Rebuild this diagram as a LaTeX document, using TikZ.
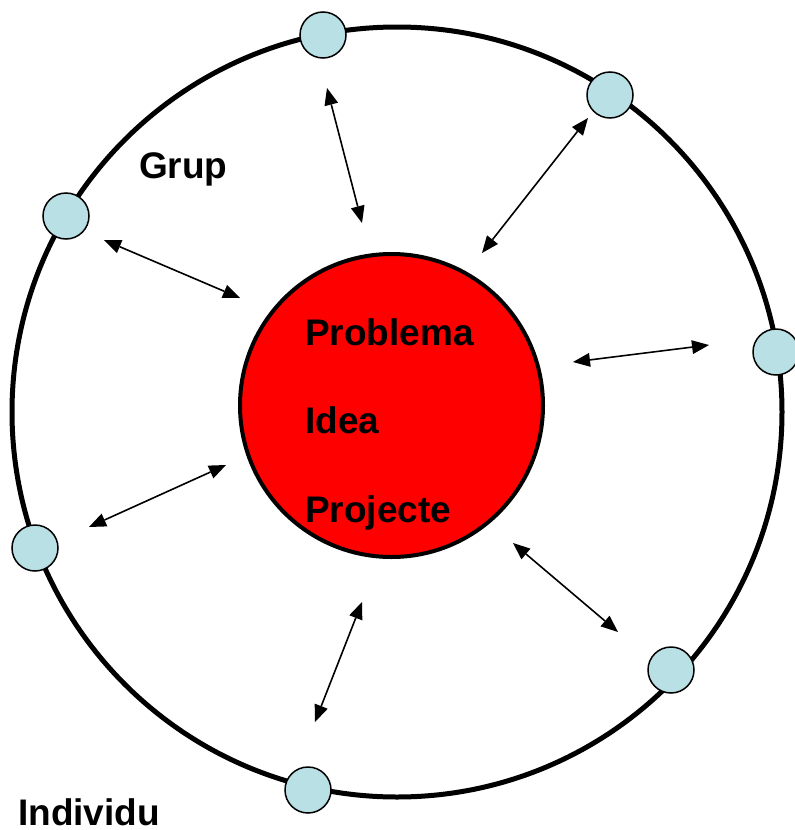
\documentclass[tikz,border=0pt]{standalone}
\usepackage{fontspec}
\setmainfont{Liberation Sans}
\usetikzlibrary{arrows.meta}
\definecolor{dotblue}{RGB}{185,224,228}
\definecolor{redfill}{RGB}{255,0,0}
\begin{document}
\begin{tikzpicture}[x=1pt,y=-1pt,
  outer/.style={circle,draw=black,line width=5pt,minimum size=770pt,inner sep=0pt},
  core/.style={circle,draw=black,fill=redfill,line width=4pt,minimum size=303pt,inner sep=0pt},
  dot/.style={circle,draw=black,fill=dotblue,line width=1.5pt,minimum size=46pt,inner sep=0pt},
  lbl/.style={font=\fontsize{37}{40}\selectfont\bfseries,anchor=base west,inner sep=0pt},
  tip/.tip={Triangle[length=17pt,width=14pt,line width=0pt]},
  link/.style={line width=1.6pt,tip-tip}]
\useasboundingbox (0,0) rectangle (795,830);
\node[outer] (big) at (397,412) {};
\node[core] (red) at (391.5,405.5) {};
\node[dot] (d1) at (323,35) {};
\node[dot] (d2) at (610,95) {};
\node[dot] (d3) at (66,216) {};
\node[dot] (d4) at (776,352) {};
\node[dot] (d5) at (35,548) {};
\node[dot] (d6) at (671,670) {};
\node[dot] (d7) at (308,790) {};
\node[lbl] (t1) at (305,345) {Problema};
\node[lbl] (t2) at (305,433) {Idea};
\node[lbl] (t3) at (305,522) {Projecte};
\node[lbl] (grup) at (139,178) {Grup};
\node[lbl,text depth=0pt] (ind) at (18,825) {Individu};
\coordinate (a1) at (327,88);  \coordinate (b1) at (362,223);
\coordinate (a2) at (588,118); \coordinate (b2) at (482,253);
\coordinate (a3) at (104,240); \coordinate (b3) at (240,298);
\coordinate (a4) at (709,345); \coordinate (b4) at (573,362);
\coordinate (a5) at (89,527);  \coordinate (b5) at (226,465);
\coordinate (a6) at (618,632); \coordinate (b6) at (513,543);
\coordinate (a7) at (315,722); \coordinate (b7) at (362,602);
\foreach \i in {1,...,7} {\draw[link] (a\i) -- (b\i);}
\end{tikzpicture}
\end{document}
